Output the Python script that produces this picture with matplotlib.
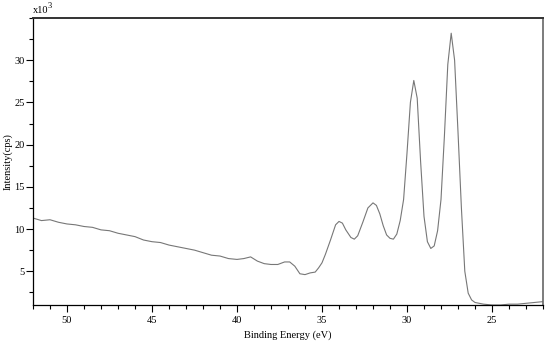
import numpy as np
import matplotlib.pyplot as plt
from matplotlib.ticker import MultipleLocator

plt.rcParams['font.family'] = ['Liberation Serif', 'DejaVu Serif']

# binding energy (eV) and intensity (x10^3 cps)
energy = [52.0, 51.5, 51.0, 50.5, 50.0, 49.5, 49.0, 48.5, 48.0, 47.5, 47.0, 46.5,
          46.0, 45.5, 45.0, 44.5, 44.0, 43.5, 43.0, 42.5, 42.0, 41.5, 41.0, 40.5,
          40.0, 39.6, 39.2, 38.8, 38.4, 38.0, 37.6, 37.2, 36.9, 36.6, 36.3, 36.0,
          35.7, 35.4, 35.2, 35.0, 34.8, 34.5, 34.2, 34.0, 33.8, 33.6, 33.3, 33.1,
          32.9, 32.6, 32.3, 32.0, 31.8, 31.6, 31.4, 31.2, 31.0, 30.8, 30.6, 30.4,
          30.2, 30.0, 29.8, 29.6, 29.4, 29.2, 29.0, 28.8, 28.6, 28.4, 28.2, 28.0,
          27.8, 27.6, 27.4, 27.2, 27.0, 26.8, 26.6, 26.4, 26.2, 26.0, 25.5, 25.0,
          24.5, 24.0, 23.5, 23.0, 22.5, 22.0]
intensity = [11.3, 11.0, 11.1, 10.8, 10.6, 10.5, 10.3, 10.2, 9.9, 9.8, 9.5, 9.3,
             9.1, 8.7, 8.5, 8.4, 8.1, 7.9, 7.7, 7.5, 7.2, 6.9, 6.8, 6.5,
             6.4, 6.5, 6.7, 6.2, 5.9, 5.8, 5.8, 6.1, 6.1, 5.6, 4.7, 4.6,
             4.8, 4.9, 5.4, 6.0, 7.0, 8.7, 10.5, 10.9, 10.7, 9.9, 9.0, 8.8,
             9.2, 10.8, 12.5, 13.1, 12.8, 11.8, 10.4, 9.3, 8.9, 8.8, 9.4, 11.0,
             13.5, 19.0, 25.0, 27.6, 25.5, 18.0, 11.5, 8.5, 7.7, 8.0, 9.8, 13.5,
             21.0, 29.5, 33.2, 30.0, 21.5, 12.5, 5.0, 2.4, 1.6, 1.3, 1.1, 1.0,
             1.0, 1.1, 1.1, 1.2, 1.3, 1.4]

fig = plt.figure(figsize=(5.5, 3.45), dpi=100)
ax = fig.add_axes([33/550, 40/345, 510/550, 287/345])

ax.plot(energy, intensity, color='#777777', lw=0.8)

ax.set_xlim(52, 22)
ax.set_ylim(1, 35)
ax.xaxis.set_major_locator(MultipleLocator(5))
ax.xaxis.set_minor_locator(MultipleLocator(1))
ax.yaxis.set_major_locator(MultipleLocator(5))
ax.yaxis.set_minor_locator(MultipleLocator(2.5))
ax.set_yticks([5, 10, 15, 20, 25, 30])
ax.tick_params(which='major', length=5, width=0.8, labelsize=7.5, pad=1, direction='out')
ax.tick_params(which='minor', length=3, width=0.8, direction='out')
ax.tick_params(axis='x', pad=3)

for side in ['left', 'bottom']:
    ax.spines[side].set_linewidth(0.9)
ax.spines['top'].set_linewidth(1.4)
ax.spines['top'].set_color('#333333')
ax.spines['right'].set_linewidth(1.2)
ax.spines['right'].set_color('#666666')

ax.set_xlabel('Binding Energy (eV)', fontsize=7.5, labelpad=4)
ax.set_ylabel('Intensity(cps)', fontsize=7.5, labelpad=1)

fig.text(33/550, 1 - 13/345, 'x10', fontsize=7.5, ha='left', va='baseline')
fig.text(48/550, 1 - 8/345, '3', fontsize=6, ha='left', va='baseline')

fig.savefig('out.png', dpi=100)
